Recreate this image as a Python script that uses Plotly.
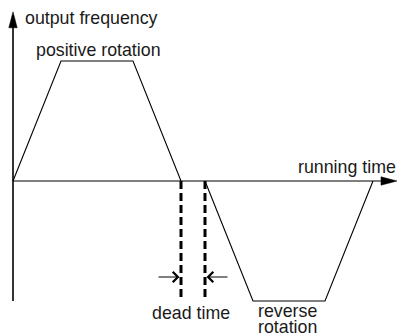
import plotly.graph_objects as go

# chart values (time in arbitrary units, frequency normalised)
pos_time = [0, 1, 2.5, 3.5]
pos_freq = [0, 1, 1, 0]
rev_time = [4, 5, 6.5, 7.5]
rev_freq = [0, -1, -1, 0]
dead_start = 3.5
dead_end = 4.0
time_axis_end = 8.0
freq_axis_top = 1.41
freq_axis_bottom = -1.0
dead_depth = -0.98
dead_arrow_level = -0.8
dead_arrow_len = 0.5

# pixel scale: 48 px per time unit, 120 px per freq unit
PX_T = 48.0
PX_F = 120.0
W, H = 401, 336
x0 = -13 / PX_T
y1 = 181 / PX_F
x_range = [x0, x0 + W / PX_T]
y_range = [y1 - H / PX_F, y1]

FONT = dict(family="Liberation Sans, Arial, sans-serif", size=17.8, color="#1a1a1a")

fig = go.Figure()

# horizontal axis (running time)
fig.add_trace(go.Scatter(x=[0, time_axis_end - 14 / PX_T], y=[0, 0], mode="lines",
                         line=dict(color="#555555", width=1.6), hoverinfo="skip"))
# vertical axis (output frequency)
fig.add_trace(go.Scatter(x=[0, 0], y=[freq_axis_bottom, freq_axis_top - 14 / PX_F], mode="lines",
                         line=dict(color="black", width=1.6), hoverinfo="skip"))

# arrow heads on axes
hl, hw = 16, 4.2
fig.add_trace(go.Scatter(
    x=[time_axis_end, time_axis_end - hl / PX_T, time_axis_end - hl / PX_T, time_axis_end],
    y=[0, hw / PX_F, -hw / PX_F, 0], mode="lines", fill="toself",
    fillcolor="black", line=dict(color="black", width=0.5), hoverinfo="skip"))
fig.add_trace(go.Scatter(
    x=[0, hw / PX_T, -hw / PX_T, 0],
    y=[freq_axis_top, freq_axis_top - hl / PX_F, freq_axis_top - hl / PX_F, freq_axis_top],
    mode="lines", fill="toself",
    fillcolor="black", line=dict(color="black", width=0.5), hoverinfo="skip"))

# positive and reverse rotation profiles
fig.add_trace(go.Scatter(x=pos_time, y=pos_freq, mode="lines",
                         line=dict(color="black", width=1.1), hoverinfo="skip"))
fig.add_trace(go.Scatter(x=rev_time, y=rev_freq, mode="lines",
                         line=dict(color="black", width=1.1), hoverinfo="skip"))

# dead time dashed markers
for t in (dead_start, dead_end):
    fig.add_trace(go.Scatter(x=[t, t], y=[0, dead_depth], mode="lines",
                             line=dict(color="black", width=3, dash="8px,4px"),
                             hoverinfo="skip"))

# dead time arrows
fig.add_annotation(x=dead_start, y=dead_arrow_level, ax=dead_start - dead_arrow_len,
                   ay=dead_arrow_level, axref="x", ayref="y", text="", showarrow=True,
                   arrowhead=4, arrowsize=2, arrowwidth=1, arrowcolor="black", standoff=1.5)
fig.add_annotation(x=dead_end, y=dead_arrow_level, ax=dead_end + dead_arrow_len,
                   ay=dead_arrow_level, axref="x", ayref="y", text="", showarrow=True,
                   arrowhead=4, arrowsize=2, arrowwidth=1, arrowcolor="black", standoff=1.5)

# labels
labels = [
    ("output frequency", 0.2, 1.358, "left"),
    ("positive rotation", 1.79, 1.09, "center"),
    ("running time", 8.02, 0.117, "right"),
    ("dead time", 3.70, -1.10, "center"),
    ("reverse", 5.72, -1.083, "center"),
    ("rotation", 5.72, -1.22, "center"),
]
for txt, tx, ty, xa in labels:
    fig.add_annotation(x=tx, y=ty, text=txt, showarrow=False, xanchor=xa, yanchor="middle",
                       font=FONT, align="center")

fig.update_layout(
    width=W, height=H,
    margin=dict(l=0, r=0, t=0, b=0),
    paper_bgcolor="white", plot_bgcolor="white",
    showlegend=False,
    xaxis=dict(range=x_range, visible=False, fixedrange=True),
    yaxis=dict(range=y_range, visible=False, fixedrange=True),
)

# drop the default page margin so the figure sits at the window corner
fig.write_html("out.html", config={"displayModeBar": False},
               post_script="document.body.style.margin='0';document.body.style.overflow='hidden';")
